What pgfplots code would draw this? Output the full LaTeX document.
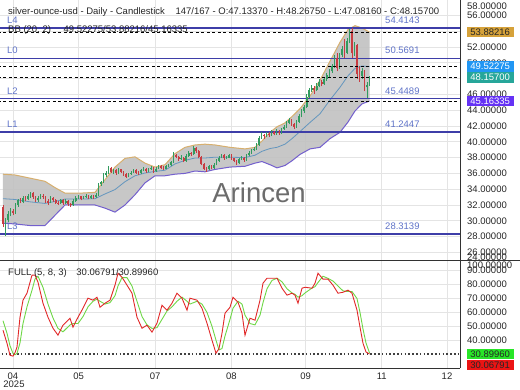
\documentclass[border=0pt]{standalone}
\usepackage{fontspec}
\setmainfont{Liberation Sans}
\usepackage{pgfplots}
\usepackage{pgfplotstable}
\pgfplotsset{compat=1.18}

\definecolor{upc}{RGB}{50,155,95}
\definecolor{dnc}{RGB}{200,60,65}
\definecolor{lvl}{RGB}{62,62,168}
\definecolor{lvltxt}{RGB}{95,115,200}
\definecolor{bbup}{RGB}{215,175,110}
\definecolor{bblo}{RGB}{115,95,205}
\definecolor{bbmid}{RGB}{100,150,190}
\definecolor{gridc}{RGB}{228,228,228}
\definecolor{framec}{RGB}{50,50,50}
\definecolor{boxor}{RGB}{214,162,58}
\definecolor{boxbl}{RGB}{33,150,243}
\definecolor{boxtl}{RGB}{38,166,154}
\definecolor{boxpu}{RGB}{101,50,245}
\definecolor{boxgr}{RGB}{40,230,40}
\definecolor{boxrd}{RGB}{235,20,20}
\definecolor{stK}{RGB}{225,40,40}
\definecolor{stD}{RGB}{110,215,70}
\newcommand{\tf}{\fontsize{9.5}{11}\selectfont}

\pgfplotstableread{
i o h l c
1 29.60 30.40 28.10 30.10
2 30.10 31.20 29.80 30.90
3 30.90 31.60 30.60 31.30
5 31.00 32.20 30.90 32.00
6 32.00 32.80 31.80 32.60
8 32.40 33.10 32.20 32.90
10 32.70 33.40 32.60 33.10
11 33.10 33.70 32.90 33.50
14 32.60 33.10 32.40 32.90
15 32.90 33.40 32.70 33.20
19 32.30 33.10 32.20 32.90
23 32.20 32.80 32.10 32.60
25 32.20 32.70 32.10 32.50
28 32.00 32.70 31.90 32.50
29 32.50 33.10 32.40 32.90
30 32.90 33.30 32.70 33.10
32 32.80 33.20 32.70 33.00
33 33.00 33.40 32.90 33.20
35 32.90 33.30 32.80 33.10
37 33.00 33.50 32.90 33.30
38 33.30 34.80 33.20 34.60
39 34.60 35.10 34.40 34.90
40 34.90 36.00 34.80 35.80
41 35.80 36.30 35.60 36.10
42 36.10 36.90 35.90 36.70
44 36.20 36.60 35.90 36.40
46 36.00 36.70 35.90 36.50
50 35.60 36.10 35.50 35.90
51 35.90 36.30 35.80 36.10
52 36.10 36.60 36.00 36.40
55 36.00 36.60 35.90 36.40
56 36.40 36.80 36.30 36.60
58 36.30 36.70 36.20 36.50
59 36.50 36.90 36.40 36.70
61 36.30 36.80 36.20 36.60
62 36.60 37.10 36.50 36.90
65 36.60 37.10 36.50 36.90
66 36.90 37.20 36.80 37.00
67 37.00 37.60 36.90 37.40
68 37.40 38.70 37.30 38.30
71 37.80 38.30 37.70 38.00
73 37.60 38.40 37.50 38.20
74 38.20 38.80 38.10 38.60
76 38.40 39.50 38.30 39.20
82 36.50 37.10 36.40 36.90
84 36.70 37.30 36.60 37.10
85 37.10 37.80 37.00 37.60
86 37.60 38.20 37.50 38.00
87 38.00 38.50 37.90 38.30
89 37.90 38.20 37.80 38.00
90 38.00 38.50 37.90 38.30
94 37.30 38.00 37.20 37.80
95 37.80 38.20 37.70 38.00
97 37.70 38.50 37.60 38.30
98 38.30 38.80 38.20 38.60
99 38.60 39.10 38.50 38.90
100 38.90 39.30 38.80 39.10
101 39.10 39.80 39.00 39.60
102 39.60 40.70 39.50 40.50
103 40.50 41.20 40.40 40.90
105 40.70 41.30 40.60 41.00
107 40.80 41.50 40.70 41.20
109 41.00 41.60 40.90 41.30
111 41.10 41.80 41.00 41.60
112 41.60 42.10 41.50 41.90
113 41.90 42.60 41.80 42.40
114 42.40 43.00 42.20 42.70
117 41.90 42.70 41.80 42.50
118 42.50 43.50 42.40 43.30
119 43.30 44.10 43.10 43.90
120 43.90 44.60 43.70 44.40
121 44.40 46.00 44.30 45.70
122 45.70 46.80 45.50 46.50
123 46.50 47.20 46.30 46.80
125 46.50 47.40 46.40 47.10
126 47.10 47.90 46.90 47.60
128 47.30 48.20 47.20 47.90
129 47.90 48.70 47.70 48.40
130 48.40 49.20 48.20 48.90
131 48.90 49.90 48.70 49.60
132 49.60 51.00 49.40 50.60
134 49.40 51.30 49.20 51.00
135 51.00 52.10 50.70 51.70
137 51.30 53.10 51.10 52.80
138 52.80 54.30 52.50 54.00
140 51.20 52.60 50.90 52.20
143 48.30 49.30 48.00 48.90
145 46.90 47.60 45.50 47.13
146 47.1337 48.2675 47.0816 48.157
}\upt

\pgfplotstableread{
i o h l c
0 31.80 32.00 29.20 29.60
4 31.30 31.50 30.70 31.00
7 32.60 32.90 32.20 32.40
9 32.90 33.20 32.50 32.70
12 33.50 33.60 32.80 33.00
13 33.00 33.20 32.40 32.60
16 33.20 33.40 32.80 33.00
17 33.00 33.10 32.30 32.50
18 32.50 32.70 32.00 32.30
20 32.90 33.00 32.40 32.60
21 32.60 32.80 32.10 32.30
22 32.30 32.50 32.00 32.20
24 32.60 32.70 32.00 32.20
26 32.50 32.60 31.90 32.10
27 32.10 32.30 31.80 32.00
31 33.10 33.20 32.60 32.80
34 33.20 33.30 32.70 32.90
36 33.10 33.30 32.80 33.00
43 36.70 36.80 36.00 36.20
45 36.40 36.50 35.80 36.00
47 36.50 36.60 36.00 36.20
48 36.20 36.30 35.70 35.90
49 35.90 36.00 35.40 35.60
53 36.40 36.50 35.90 36.10
54 36.10 36.30 35.80 36.00
57 36.60 36.70 36.10 36.30
60 36.70 36.80 36.10 36.30
63 36.90 37.00 36.50 36.70
64 36.70 36.90 36.40 36.60
69 38.30 38.50 37.90 38.10
70 38.10 38.20 37.60 37.80
72 38.00 38.10 37.40 37.60
75 38.60 38.70 38.20 38.40
77 39.20 39.30 38.60 38.80
78 38.80 38.90 37.90 38.10
79 38.10 38.20 37.00 37.20
80 37.20 37.30 36.40 36.60
81 36.60 36.80 36.20 36.50
83 36.90 37.00 36.50 36.70
88 38.30 38.40 37.70 37.90
91 38.30 38.40 37.70 37.90
92 37.90 38.00 37.40 37.60
93 37.60 37.70 37.10 37.30
96 38.00 38.10 37.50 37.70
104 40.90 41.00 40.40 40.70
106 41.00 41.20 40.60 40.80
108 41.20 41.40 40.80 41.00
110 41.30 41.50 40.90 41.10
115 42.70 42.90 42.00 42.20
116 42.20 42.40 41.60 41.90
124 46.80 47.00 46.10 46.50
127 47.60 47.80 47.00 47.30
133 50.60 51.20 48.90 49.40
136 51.70 53.00 50.60 51.30
139 54.00 54.41 50.60 51.20
141 52.20 52.40 47.90 48.60
142 48.60 49.60 47.60 48.30
144 48.90 49.10 46.40 46.90
}\dnt

% Bollinger bands, read at pixel columns (px)
\pgfplotstableread{
px up mid lo
3 35.9 32.8 29.7
15 35.8 32.7 29.6
30 35.4 32.4 29.4
45 35.0 32.2 29.4
55 34.2 32.45 30.7
65 33.5 32.75 32.0
80 33.5 32.75 32.0
95 33.6 32.8 32.0
105 35.2 33.4 31.6
115 36.8 33.95 31.1
125 37.9 34.95 32.0
135 38.1 35.7 33.3
145 37.3 36.05 34.8
155 36.8 36.25 35.7
165 37.1 36.4 35.7
175 38.5 37.2 35.9
185 39.3 37.65 36.0
195 39.6 37.95 36.3
205 39.7 37.95 36.2
215 39.6 38.05 36.5
230 39.3 38.05 36.8
245 39.1 38.0 36.9
255 39.3 38.3 37.3
262 40.1 38.8 37.5
270 41.2 39.15 37.1
277 41.9 39.3 36.7
285 42.4 39.7 37.0
292 43.2 40.4 37.6
300 44.2 41.3 38.4
310 45.8 42.45 39.1
320 47.8 43.55 39.3
330 50.2 45.3 40.4
340 52.6 46.9 41.2
348 54.2 48.35 42.5
355 54.7 49.3 43.9
362 54.4 49.6 44.8
369.5 53.88216 49.52275 45.16335
}\bbt

% band outline (upper forward, lower backward) for the shaded area
\pgfplotstableread{
px v
3 35.9
15 35.8
30 35.4
45 35.0
55 34.2
65 33.5
80 33.5
95 33.6
105 35.2
115 36.8
125 37.9
135 38.1
145 37.3
155 36.8
165 37.1
175 38.5
185 39.3
195 39.6
205 39.7
215 39.6
230 39.3
245 39.1
255 39.3
262 40.1
270 41.2
277 41.9
285 42.4
292 43.2
300 44.2
310 45.8
320 47.8
330 50.2
340 52.6
348 54.2
355 54.7
362 54.4
369.5 53.88216
369.5 45.16335
362 44.8
355 43.9
348 42.5
340 41.2
330 40.4
320 39.3
310 39.1
300 38.4
292 37.6
285 37.0
277 36.7
270 37.1
262 37.5
255 37.3
245 36.9
230 36.8
215 36.5
205 36.2
195 36.3
185 36.0
175 35.9
165 35.7
155 35.7
145 34.8
135 33.3
125 32.0
115 31.1
105 31.6
95 32.0
80 32.0
65 32.0
55 30.7
45 29.4
30 29.4
15 29.6
3 29.7
}\bbpoly

% Stochastic full (5,8,3), read at pixel columns (px)
\pgfplotstableread{
px k d
3 47.2 54
7 37.8 45
10 29.2 36
13 28.5 30.5
15 31 29.5
17 35 30.5
20 56.5 38
23 68.8 52
27 73.8 64
32 86.8 76
35 86.8 84
38 81.7 86
43 66.6 78
48 56.5 66
53 48.6 56
58 43.6 48.5
63 50.8 46
70 55.8 51
73 49.4 52
78 56.5 52
83 63 57
88 70.2 64
93 68.8 68
97 70.9 69.5
100 63.7 68
105 66.6 66
110 68.8 67
115 79.6 72
118 88.2 79
122 85.3 85
127 79.6 85
132 73.8 79
137 56.5 68
142 48.6 57
147 50.8 51
152 45.8 48.5
157 52.2 49
162 65.2 55
167 61.6 61
172 66.6 64
177 73.8 68
182 70.2 71
187 61.6 68
190 70.2 66
197 68.8 68
202 63 66
207 52.2 60
212 40 50
216 30.6 40
219 34 33
222 45 34
225 59.4 43
230 63.7 55
233 70.9 63
238 67.3 68
242 59.4 66
245 43.6 58
250 55.8 52
255 54.4 51
260 68.8 58
263 81 67
267 84.6 77
272 84.6 83
277 84.6 84.6
282 77.4 82
287 72.4 77
292 73.8 74
295 72.4 73
298 66.6 71
302 77.4 72
305 78.1 74
312 77.4 77.5
315 81 78.5
318 88.2 81.5
323 83.9 86
328 83.9 84.5
333 79.6 82.5
338 73.8 79
343 74.5 75.5
348 76 75
352 73.8 75
357 61.6 70
360 49.4 60
363 37.8 48
366 31.5 38
369.5 30.06791 30.8996
}\stt

\pgfplotsset{
  panel/.style={
    scale only axis, width=460pt,
    xmin=-1.195, xmax=182.07,
    axis line style={draw=none},
    xtick={3.98,30.1,60.6,91,120.6,150.9,176.9},
    major tick length=0pt,
    grid=major, major grid style={gridc, line width=0.6pt},
    yticklabel pos=right,
    yticklabel style={anchor=west, inner sep=0pt, xshift=7pt, font=\tf, text=black!85},
    scaled y ticks=false,
    /pgf/number format/fixed,
    /pgf/number format/fixed zerofill,
    /pgf/number format/precision=5,
    /pgf/number format/assume math mode=true,
    clip mode=individual,
  },
}
\tikzset{
  lvllab/.style={lvltxt, font=\tf, anchor=base west, inner sep=0pt, yshift=4.6pt},
  vbox/.style={anchor=west, font=\tf, inner xsep=1.5pt, inner ysep=0pt, minimum height=10.6pt, minimum width=47pt, xshift=6.5pt},
}

\begin{document}
\begin{tikzpicture}
\useasboundingbox (0pt,0pt) rectangle (520pt,390pt);

% ---------------- price panel ----------------
\begin{axis}[panel, at={(0pt,129.3pt)}, anchor=south west,
  height=260.7pt, ymin=24.95, ymax=57.95,
  ytick={26,28,...,56}, xticklabels={},
  yticklabels={26.00000,28.00000,30.00000,32.00000,34.00000,36.00000,38.00000,40.00000,42.00000,44.00000,46.00000,{},50.00000,52.00000,{},56.00000}]

\addplot[fill=black!24, fill opacity=0.92, draw=none] table[x expr=(\thisrow{px}-3)/2.51, y=v]{\bbpoly};
\addplot[bbup, line width=1pt] table[x expr=(\thisrow{px}-3)/2.51, y=up]{\bbt};
\addplot[bblo, line width=1pt] table[x expr=(\thisrow{px}-3)/2.51, y=lo]{\bbt};
\addplot[bbmid, line width=0.8pt] table[x expr=(\thisrow{px}-3)/2.51, y=mid]{\bbt};

% level lines
\addplot[lvl, line width=1.4pt] coordinates {(-2,54.4143) (183,54.4143)};
\addplot[lvl, line width=1.4pt] coordinates {(-2,50.5691) (183,50.5691)};
\addplot[lvl, line width=1.4pt] coordinates {(-2,45.4489) (183,45.4489)};
\addplot[lvl, line width=1.4pt] coordinates {(-2,41.2447) (183,41.2447)};
\addplot[lvl, line width=1.4pt] coordinates {(-2,28.3139) (183,28.3139)};

% candles: wicks (low to high) and bodies (open to close)
\addplot[upc, line width=0.6pt, quiver={u=0, v=\thisrow{h}-\thisrow{l}}] table[x=i, y=l]{\upt};
\addplot[dnc, line width=0.6pt, quiver={u=0, v=\thisrow{h}-\thisrow{l}}] table[x=i, y=l]{\dnt};
\addplot[upc, line width=1.6pt, quiver={u=0, v=\thisrow{c}-\thisrow{o}}] table[x=i, y=o]{\upt};
\addplot[dnc, line width=1.6pt, quiver={u=0, v=\thisrow{o}-\thisrow{c}}] table[x=i, y=c]{\dnt};

% dashed indicator lines
\addplot[black, line width=0.9pt, dash pattern=on 3pt off 2.5pt] coordinates {(-2,53.88216) (183,53.88216)};
\addplot[black, line width=0.9pt, dash pattern=on 3pt off 2.5pt] coordinates {(-2,49.52275) (183,49.52275)};
\addplot[black, line width=0.9pt, dash pattern=on 3pt off 2.5pt] coordinates {(-2,48.157) (183,48.157)};
\addplot[black, line width=0.9pt, dash pattern=on 3pt off 2.5pt] coordinates {(-2,45.16335) (183,45.16335)};

% level labels
\node[lvllab] at (axis cs:1.6,54.4143) {L4};
\node[lvllab] at (axis cs:1.6,50.5691) {L0};
\node[lvllab] at (axis cs:1.6,45.4489) {L2};
\node[lvllab] at (axis cs:1.6,41.2447) {L1};
\node[lvllab] at (axis cs:1.6,28.3139) {L3};
\node[lvllab] at (axis cs:152.2,54.4143) {54.4143};
\node[lvllab] at (axis cs:152.2,50.5691) {50.5691};
\node[lvllab] at (axis cs:152.2,45.4489) {45.4489};
\node[lvllab] at (axis cs:152.2,41.2447) {41.2447};
\node[lvllab] at (axis cs:152.2,28.3139) {28.3139};

\node[font=\fontsize{27.5}{30}\selectfont, text=black!68, opacity=0.85] at (axis cs:102,33.52) {Arincen};

\coordinate (b1) at (axis cs:182.07,53.88216);
\coordinate (b2) at (axis cs:182.07,49.52275);
\coordinate (b3) at (axis cs:182.07,48.157);
\coordinate (b4) at (axis cs:182.07,45.16335);
\end{axis}

% ---------------- stochastic panel ----------------
\begin{axis}[panel, at={(0pt,22pt)}, anchor=south west,
  height=107.3pt, ymin=20, ymax=97.2,
  ytick={40,50,...,90},
  xticklabels={04,05,07,08,09,11,12},
  xticklabel style={font=\tf, anchor=north, inner sep=0pt, yshift=-4.5pt, text=black!85}]

\addplot[black!75, line width=1.6pt, dash pattern=on 1.6pt off 2.2pt] coordinates {(-2,30.07) (183,30.07)};
\addplot[stD, line width=0.9pt] table[x expr=(\thisrow{px}-3)/2.51, y=d]{\stt};
\addplot[stK, line width=0.9pt] table[x expr=(\thisrow{px}-3)/2.51, y=k]{\stt};

\coordinate (s1) at (axis cs:182.07,30.8996);
\end{axis}

% frame lines
\draw[framec, line width=0.8pt] (460pt,22pt) -- (460pt,390pt);
\draw[framec, line width=0.8pt] (0pt,129.3pt) -- (520pt,129.3pt);
\draw[framec, line width=0.8pt] (0pt,22pt) -- (460pt,22pt);

% clamped tick labels
\node[font=\tf, text=black!85, anchor=west, inner sep=0pt] at (467pt,384pt) {58.00000};
\node[font=\tf, text=black!85, anchor=west, inner sep=0pt] at (467pt,133pt) {24.00000};
\node[font=\tf, text=black!85, anchor=west, inner sep=0pt] at (467pt,125pt) {100.00000};

% value boxes
\node[vbox, fill=boxor, text=black!85] at (b1) {53.88216};
\node[vbox, fill=boxbl, text=white] at (b2) {49.52275};
\node[vbox, fill=boxtl, text=white] at (b3) {48.15700};
\node[vbox, fill=boxpu, text=white] at (b4) {45.16335};
\node[vbox, fill=boxgr, text=black!85] at ([yshift=-1pt]s1) {30.89960};
\node[vbox, fill=boxrd, text=black!85] at ([yshift=-12pt]s1) {30.06791};

% header texts
\node[font=\tf, text=black!85, anchor=west, inner sep=0pt] at (8pt,378pt)
  {silver-ounce-usd - Daily - Candlestick\hspace{8pt} 147/167 - O:47.13370 - H:48.26750 - L:47.08160 - C:48.15700};
\node[font=\tf, text=black!85, anchor=west, inner sep=0pt] at (8pt,360pt)
  {BB (20, 2)\hspace{10pt} 49.52275/53.88216/45.16335};
\node[font=\tf, text=black!85, anchor=west, inner sep=0pt] at (8pt,117pt)
  {FULL (5, 8, 3)\hspace{7pt} 30.06791/30.89960};
\node[font=\tf, text=black!85] at (14pt,6pt) {2025};
\end{tikzpicture}
\end{document}
